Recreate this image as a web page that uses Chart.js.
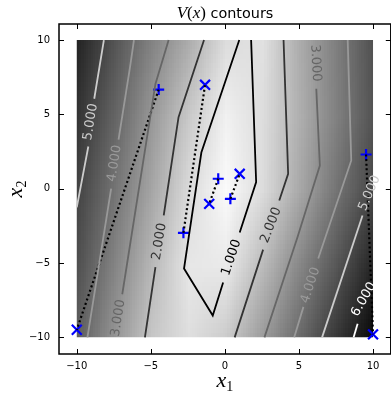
<!DOCTYPE html>
<html>
<head>
<meta charset="utf-8">
<script src="https://cdn.jsdelivr.net/npm/chart.js@4.4.1/dist/chart.umd.min.js"></script>
<style>
  html, body { margin: 0; padding: 0; background: #fff; overflow: hidden; }
  canvas { display: block; }
</style>
</head>
<body>
<canvas id="chart" width="400" height="402"></canvas>
<script>
// V(x) contour map: grey field, labelled level lines, blue +/x pairs joined by dots.

// field samples; rows top (x2 = 10) to bottom (x2 = -10)
const gridX1 = [-10, -7.5, -5, -2.5, 0, 2.5, 5, 7.5, 10];
const gridX2 = [10, 5, 0, -5, -10];
const fieldV = [
  [5.9, 4.67, 3.51, 2.46, 1.25, 1.15, 2.49, 3.64, 4.78],
  [5.5, 4.29, 2.99, 1.76, 0.75, 1.25, 2.42, 3.59, 4.73],
  [5.1, 3.9, 2.64, 1.31, 0.5, 1.27, 2.59, 3.92, 5.05],
  [4.8, 3.48, 2.18, 1.0, 0.92, 2.11, 3.42, 4.65, 5.9],
  [4.4, 3.06, 1.8, 1.2, 1.7, 2.92, 4.17, 5.44, 6.6],
];

// contour pieces, [x1, x2] vertices; null = gap left for an inline label
const contourLevel = [1, 2, 2, 3, 3, 4, 4, 5, 5, 6];
const contourPaths = [
  [[0.97, 10], [-1.59, 2.43], [-2.76, -5.37], [-0.82, -8.53], [-0.12, -6.31], null, [1.0, -2.94], [2.11, 0.45], [1.77, 10]],
  [[-1.41, 10], [-3.13, 4.81], [-4.13, -1.8], null, [-4.69, -5.28], [-5.4, -10]],
  [[3.96, 10], [4.27, 1.0], [3.67, -0.79], null, [2.58, -4.1], [0.66, -10]],
  [[-3.8, 10], [-4.69, 7.05], [-6.93, -7.1]],
  [[6.17, 6.72], [6.41, 1.56], [4.9, -3.26], [2.67, -10]],
  [[-6.14, 10], [-6.41, 8.15], [-7.18, 3.3], null, [-7.68, 0], [-9.28, -10]],
  [[8.29, 10], [8.53, 1.9], [6.3, -4.7], null, [5.3, -7.95], [4.68, -10]],
  [[-8.17, 10], [-8.82, 6.05], null, [-9.22, 2.84], [-10, -1.26]],
  [[6.56, -10], [9.29, -1.8]],
  [[8.69, -10], [8.96, -9.09]],
];

// inline contour labels
const labelLevel = [1, 2, 2, 3, 3, 4, 4, 5, 5, 6];
const labelX1 = [0.44, -4.42, 3.12, -7.2, 6.12, -7.45, 5.78, -9.06, 9.77, 9.38];
const labelX2 = [-4.63, -3.55, -2.45, -8.7, 8.45, 1.7, -6.5, 4.5, -0.3, -7.45];
const labelAngle = [71.5, 81, 69, 81, -87, 81, 72, 81, 67, 60];

// start (+) and end (x) points, paired by index
const plusX1 = [-4.47, -2.8, -0.45, 0.37, 9.53];
const plusX2 = [6.67, -2.97, 0.67, -0.68, 2.3];
const crossX1 = [-10, -1.34, -1.06, 1.0, 10];
const crossX2 = [-9.49, 6.99, -1.02, 1.0, -9.8];

const tickValues = [-10, -5, 0, 5, 10];

const V_MIN = 0.4, V_MAX = 6.8;       // grey scale of the field
const LEVEL_MIN = 1, LEVEL_MAX = 6;   // grey scale of the contour lines

function fieldGrey(v) {
  const t = 1 - (v - V_MIN) / (V_MAX - V_MIN);
  return Math.round(255 * Math.max(0, Math.min(1, t)));
}
function levelColor(lv) {
  const g = Math.round(255 * (lv - LEVEL_MIN) / (LEVEL_MAX - LEVEL_MIN));
  return 'rgb(' + g + ',' + g + ',' + g + ')';
}
const fmtTick = v => String(v).replace('-', '\u2212');

const contourSets = contourPaths.map((path, i) => ({
  data: path.map((p, k) => p ? { x: p[0], y: p[1] } : { x: path[k - 1][0], y: null }),
  showLine: true, spanGaps: false, pointRadius: 0, borderWidth: 1.8,
  borderColor: levelColor(contourLevel[i]),
}));
const pathSets = plusX1.map((_, i) => ({
  data: [{ x: plusX1[i], y: plusX2[i] }, { x: crossX1[i], y: crossX2[i] }],
  showLine: true, pointRadius: 0, borderWidth: 2.2, borderDash: [2, 2.6],
  borderColor: '#000', borderCapStyle: 'butt',
}));
const markerSets = [
  { data: plusX1.map((v, i) => ({ x: v, y: plusX2[i] })), pointStyle: 'cross', pointRadius: 5.5,
    borderWidth: 2.2, borderColor: '#0000ff', backgroundColor: '#0000ff' },
  { data: crossX1.map((v, i) => ({ x: v, y: crossX2[i] })), pointStyle: 'crossRot', pointRadius: 7,
    borderWidth: 2.2, borderColor: '#0000ff', backgroundColor: '#0000ff' },
];

// grey field as a small image, bilinear-smoothed onto the [-10,10]^2 extent
const fieldPlugin = {
  id: 'field',
  beforeDatasetsDraw(chart) {
    const { ctx, scales: { x, y } } = chart;
    const nx = gridX1.length, ny = gridX2.length;
    const off = document.createElement('canvas');
    off.width = nx; off.height = ny;
    const octx = off.getContext('2d');
    const img = octx.createImageData(nx, ny);
    fieldV.forEach((row, j) => row.forEach((v, i) => {
      const g = fieldGrey(v), k = 4 * (j * nx + i);
      img.data[k] = img.data[k + 1] = img.data[k + 2] = g;
      img.data[k + 3] = 255;
    }));
    octx.putImageData(img, 0, 0);
    const hx = (gridX1[1] - gridX1[0]) / 2, hy = (gridX2[0] - gridX2[1]) / 2;
    const l = x.getPixelForValue(gridX1[0] - hx), r = x.getPixelForValue(gridX1[nx - 1] + hx);
    const t = y.getPixelForValue(gridX2[0] + hy), b = y.getPixelForValue(gridX2[ny - 1] - hy);
    const cl = x.getPixelForValue(gridX1[0]), cr = x.getPixelForValue(gridX1[nx - 1]);
    const ct = y.getPixelForValue(gridX2[0]), cb = y.getPixelForValue(gridX2[ny - 1]);
    ctx.save();
    ctx.beginPath();
    ctx.rect(cl, ct, cr - cl, cb - ct);
    ctx.clip();
    ctx.imageSmoothingEnabled = true;
    ctx.imageSmoothingQuality = 'low';
    ctx.drawImage(off, l, t, r - l, b - t);
    ctx.restore();
  },
};

// contour labels go on top of the level lines but under the dotted paths
const labelPlugin = {
  id: 'clabels',
  afterDatasetDraw(chart, args) {
    if (args.index !== contourSets.length - 1) return;
    const { ctx, scales: { x, y } } = chart;
    ctx.save();
    ctx.font = '13px "DejaVu Sans"';
    ctx.textAlign = 'center';
    ctx.textBaseline = 'middle';
    labelLevel.forEach((lv, i) => {
      ctx.save();
      ctx.translate(x.getPixelForValue(labelX1[i]), y.getPixelForValue(labelX2[i]));
      ctx.rotate(-labelAngle[i] * Math.PI / 180);
      ctx.fillStyle = levelColor(lv);
      ctx.fillText(lv.toFixed(3), 0, 0);
      ctx.restore();
    });
    ctx.restore();
  },
};

function drawPieces(ctx, pieces, x0, y0) {
  let cx = x0;
  pieces.forEach(p => {
    ctx.font = p.font;
    ctx.fillText(p.text, cx, y0 + (p.dy || 0));
    cx += ctx.measureText(p.text).width;
  });
}
function piecesWidth(ctx, pieces) {
  return pieces.reduce((w, p) => { ctx.font = p.font; return w + ctx.measureText(p.text).width; }, 0);
}

// frame, inward ticks, title and math axis labels
const framePlugin = {
  id: 'frame',
  afterDraw(chart) {
    const { ctx, chartArea: a, scales: { x, y } } = chart;
    ctx.save();
    ctx.strokeStyle = '#000';
    ctx.lineWidth = 1;
    ctx.beginPath();
    tickValues.forEach(v => {
      const px = Math.round(x.getPixelForValue(v)) + 0.5;
      ctx.moveTo(px, a.bottom); ctx.lineTo(px, a.bottom - 5);
      ctx.moveTo(px, a.top); ctx.lineTo(px, a.top + 5);
      const py = Math.round(y.getPixelForValue(v)) + 0.5;
      ctx.moveTo(a.left, py); ctx.lineTo(a.left + 5, py);
      ctx.moveTo(a.right, py); ctx.lineTo(a.right - 5, py);
    });
    ctx.stroke();
    ctx.lineWidth = 1.5;
    ctx.strokeRect(a.left, a.top, a.right - a.left, a.bottom - a.top);

    ctx.fillStyle = '#000';
    ctx.textBaseline = 'alphabetic';
    ctx.textAlign = 'left';
    const serifI = s => 'italic ' + s + 'px "Liberation Serif", serif';
    const serif = s => s + 'px "Liberation Serif", serif';
    const title = [
      { text: 'V', font: serifI(17) }, { text: '(', font: serif(17) },
      { text: 'x', font: serifI(17) }, { text: ')', font: serif(17) },
      { text: ' contours', font: '14.4px "DejaVu Sans"' },
    ];
    drawPieces(ctx, title, 225 - piecesWidth(ctx, title) / 2, 18);

    const xl = [{ text: 'x', font: serifI(22) }, { text: '1', font: serif(14), dy: 4 }];
    drawPieces(ctx, xl, (a.left + a.right) / 2 - piecesWidth(ctx, xl) / 2, 387);

    const yl = [{ text: 'x', font: serifI(22) }, { text: '2', font: serif(14), dy: 4 }];
    ctx.translate(22, (a.top + a.bottom) / 2);
    ctx.rotate(-Math.PI / 2);
    drawPieces(ctx, yl, -piecesWidth(ctx, yl) / 2, 0);
    ctx.restore();
  },
};

const tickFont = { family: 'DejaVu Sans', size: 10 };

new Chart(document.getElementById('chart'), {
  type: 'scatter',
  data: { datasets: [...contourSets, ...pathSets, ...markerSets] },
  options: {
    responsive: false,
    animation: false,
    devicePixelRatio: 1,
    layout: { padding: { top: 24, right: 7.2, left: 0, bottom: 0 } },
    plugins: { legend: { display: false }, tooltip: { enabled: false }, title: { display: false } },
    scales: {
      x: {
        type: 'linear', min: -11.2, max: 11.2,
        grid: { display: false, drawTicks: false }, border: { display: false },
        ticks: { padding: 6, font: tickFont, color: '#000', callback: fmtTick, maxRotation: 0 },
        afterBuildTicks: s => { s.ticks = tickValues.map(v => ({ value: v })); },
        afterFit: s => { s.height = 48; },
      },
      y: {
        type: 'linear', min: -11.12, max: 11.08,
        grid: { display: false, drawTicks: false }, border: { display: false },
        ticks: { padding: 9, font: tickFont, color: '#000', callback: fmtTick },
        afterBuildTicks: s => { s.ticks = tickValues.map(v => ({ value: v })); },
        afterFit: s => { s.width = 59; },
      },
    },
  },
  plugins: [fieldPlugin, labelPlugin, framePlugin],
});
</script>
</body>
</html>
